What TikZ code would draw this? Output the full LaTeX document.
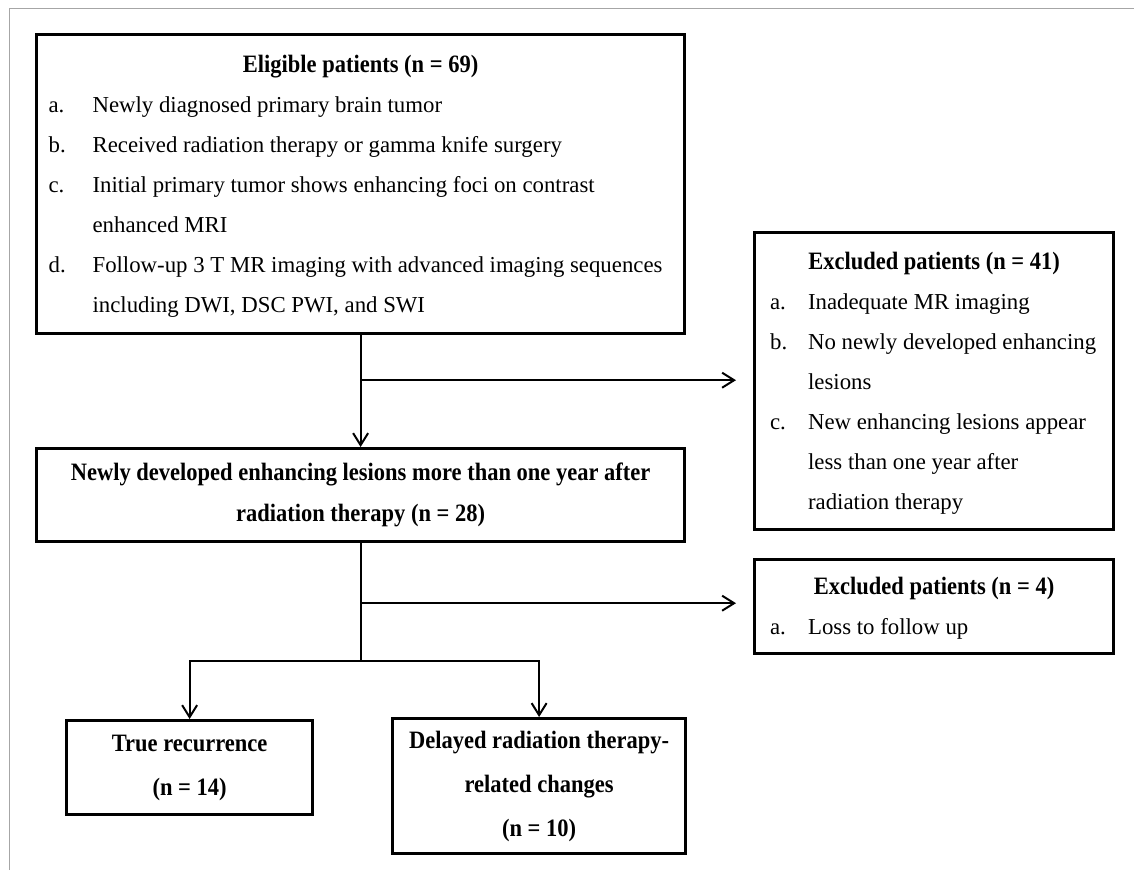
\documentclass[tikz,border=0pt]{standalone}
\usepackage{fontspec}
\setmainfont{Liberation Serif}
\newfontfamily\condfont[FakeStretch=0.9]{Liberation Serif}
\usepackage{tikz}
\usetikzlibrary{arrows.meta,positioning}
\newcommand{\bodysize}{\fontsize{22.8}{40}\selectfont}
\newcommand{\headsize}{\condfont\bfseries\fontsize{25}{40}\selectfont}

\begin{document}
\begin{tikzpicture}
		[x=1pt,y=-1pt,
		box/.style={draw,line width=3.2pt,inner sep=0pt,anchor=north west},
		head/.style={box,align=center,font=\condfont\bfseries\fontsize{25}{44}\selectfont},
		line/.style={line width=2pt},
		arr/.style={line,-{Straight Barb[length=12pt,width=15pt]}}]
		\useasboundingbox (0,0) rectangle (1134,870);
		\draw[gray!70,line width=1pt] (9,870) -- (9,8) -- (1134,8);
		\node[box,minimum width=648,minimum height=299] (elig) at (35,33) {\bodysize
			\begin{tabular}{@{}p{44pt}@{}p{580pt}@{}}
			\multicolumn{2}{c}{\headsize Eligible patients (n = 69)}\\
			a. & Newly diagnosed primary brain tumor\\
			b. & Received radiation therapy or gamma knife surgery\\
			c. & Initial primary tumor shows enhancing foci on contrast\\
			   & enhanced MRI\\
			d. & Follow-up 3 T MR imaging with advanced imaging sequences\\
			   & including DWI, DSC PWI, and SWI
			\end{tabular}};
		\node[box,minimum width=359,minimum height=297] (excl1) at (753,231) {\bodysize
			\begin{tabular}{@{}p{38pt}@{}p{290pt}@{}}
			\multicolumn{2}{c}{\headsize Excluded patients (n = 41)}\\
			a. & Inadequate MR imaging\\
			b. & No newly developed enhancing\\
			   & lesions\\
			c. & New enhancing lesions appear\\
			   & less than one year after\\
			   & radiation therapy
			\end{tabular}};
		\node[head,minimum width=648,minimum height=93,font=\condfont\bfseries\fontsize{25}{41}\selectfont] (newly) at (35,447)
			{Newly developed enhancing lesions more than one year after\\radiation therapy (n = 28)};
		\node[box,minimum width=359,minimum height=94] (excl2) at (753,558) {\bodysize
			\begin{tabular}{@{}p{38pt}@{}p{290pt}@{}}
			\multicolumn{2}{c}{\headsize Excluded patients (n = 4)}\\
			a. & Loss to follow up
			\end{tabular}};
		\node[head,minimum width=246,minimum height=94] (recur) at (65,719)
			{True recurrence\\(n = 14)};
		\node[head,minimum width=293,minimum height=135] (delay) at (391,717)
			{Delayed radiation therapy-\\related changes\\(n = 10)};
		\coordinate[below=45pt of elig.south] (split1);
		\coordinate[below=60pt of newly.south] (split2);
		\coordinate[below=118pt of newly.south] (fork);
		\draw[arr] (elig.south) -- (newly.north);
		\draw[arr,shorten >=17pt] (split1) -- (split1 -| excl1.west);
		\draw[line] (newly.south) -- (fork);
		\draw[arr,shorten >=17pt] (split2) -- (split2 -| excl2.west);
		\draw[arr] (fork) -| (recur.north);
		\draw[arr] (fork) -| (delay.north);
\end{tikzpicture}
\end{document}
